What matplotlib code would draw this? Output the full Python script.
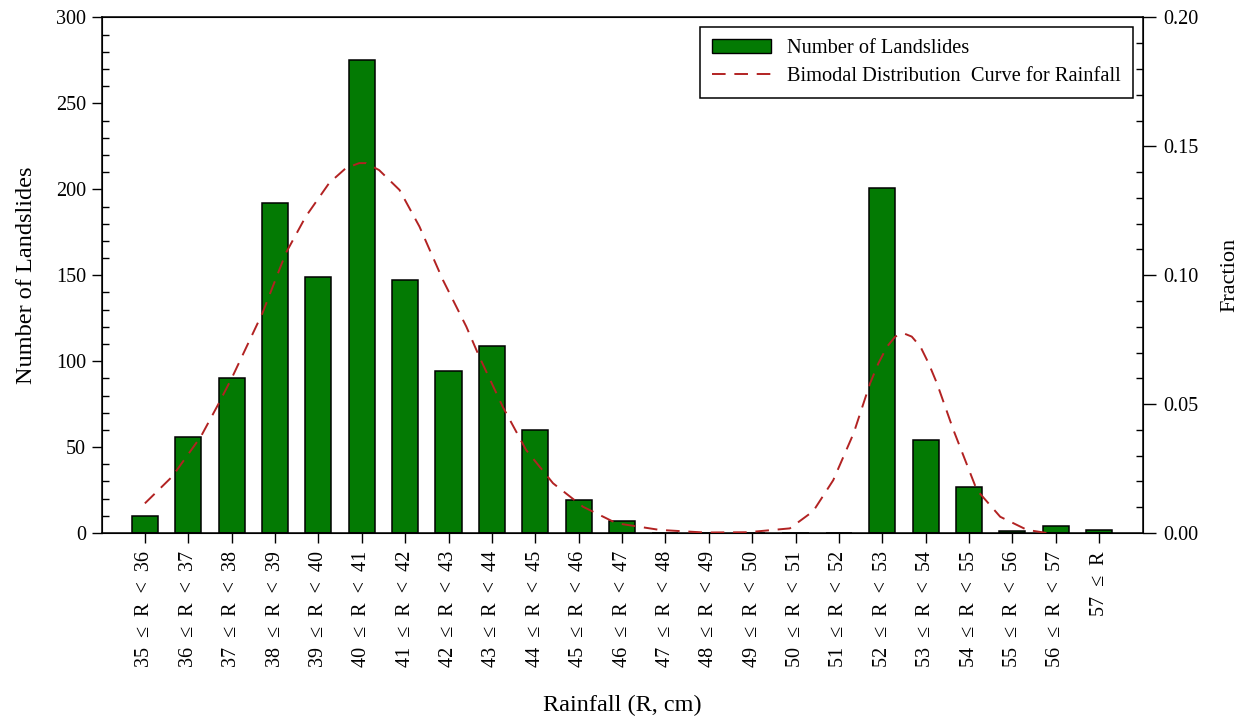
import matplotlib
matplotlib.use("Agg")
import matplotlib.pyplot as plt
from matplotlib.ticker import MultipleLocator, FormatStrFormatter
from matplotlib.patches import Patch
from matplotlib.lines import Line2D

# ---- data ----
bin_lower = [35, 36, 37, 38, 39, 40, 41, 42, 43, 44, 45, 46, 47, 48, 49, 50, 51, 52, 53, 54, 55, 56, 57]
counts = [10, 56, 90, 192, 149, 275, 147, 94, 109, 60, 19, 7, 0, 0, 0, 0, 0, 201, 54, 27, 1, 4, 2]
tick_labels = [f"{lo}  \u2264  R  <  {lo + 1}" for lo in bin_lower[:-1]] + ["57  \u2264  R"]

# bimodal curve (rainfall on bin-centre scale, fraction)
curve_r = [35.5, 36.13, 36.79, 37.21, 37.52, 38.21, 38.75, 39.21, 39.75, 40.13,
           40.44, 40.60, 40.90, 41.37, 41.83, 42.37, 42.91, 43.21, 43.75, 44.29,
           44.91, 45.60, 46.37, 47.37, 48.4, 49.4, 50.37, 50.91, 51.37, 51.84,
           52.22, 52.41, 52.61, 52.80, 52.99, 53.18, 53.38, 53.57, 53.76, 54.14,
           54.68, 55.22, 55.84, 56.30]
curve_f = [0.0115, 0.0219, 0.0374, 0.0505, 0.0607, 0.0853, 0.1086, 0.1228, 0.1358, 0.1415,
           0.1435, 0.1435, 0.1408, 0.1331, 0.1189, 0.0982, 0.0801, 0.0684, 0.0490, 0.0322,
           0.0193, 0.0102, 0.0038, 0.0012, 0.0002, 0.0003, 0.0018, 0.0085, 0.0205, 0.0387,
           0.0581, 0.0658, 0.0723, 0.0762, 0.0775, 0.0762, 0.0723, 0.0658, 0.0581, 0.0400,
           0.0167, 0.0063, 0.0012, 0.0000]

plt.rcParams['font.family'] = ['Liberation Serif', 'DejaVu Serif']

BAR_GREEN = '#037a03'
CURVE_RED = '#b22222'

fig = plt.figure(figsize=(12.47, 7.17), dpi=100)
ax = fig.add_axes([0.0814, 0.2566, 0.9162 - 0.0814, 0.9756 - 0.2566])

pos = list(range(len(counts)))
ax.bar(pos, counts, width=0.6, color=BAR_GREEN, edgecolor='black', linewidth=1.1, zorder=2)

ax.set_xlim(-1.0, 23.0)
ax.set_ylim(0, 300)
ax.set_xticks(pos)
ax.set_xticklabels(tick_labels, rotation=90, fontsize=14.5)
ax.yaxis.set_major_locator(MultipleLocator(50))
ax.yaxis.set_minor_locator(MultipleLocator(10))
ax.tick_params(axis='y', which='major', direction='out', length=7, width=1, labelsize=14.5, pad=4)
ax.tick_params(axis='y', which='minor', direction='in', length=5, width=1)
ax.tick_params(axis='x', which='major', direction='out', length=7, width=1, pad=6)
ax.tick_params(axis='x', which='minor', bottom=False)
ax.set_ylabel("Number of Landslides", fontsize=17.5, labelpad=14)
ax.set_xlabel("Rainfall (R, cm)", fontsize=17.5, labelpad=20)
for s in ax.spines.values():
    s.set_linewidth(1.1)

ax2 = ax.twinx()
curve_x = [r - 35.5 for r in curve_r]
ax2.plot(curve_x, curve_f, color=CURVE_RED, linewidth=1.4, dashes=(7, 4.5), zorder=3)
ax2.set_ylim(0, 0.20)
ax2.yaxis.set_major_locator(MultipleLocator(0.05))
ax2.yaxis.set_minor_locator(MultipleLocator(0.01))
ax2.yaxis.set_major_formatter(FormatStrFormatter('%.2f'))
ax2.tick_params(axis='y', which='major', direction='out', length=9, width=1, labelsize=14.5, pad=6)
ax2.tick_params(axis='y', which='minor', direction='in', length=5, width=1)
ax2.set_ylabel("Fraction", fontsize=16, labelpad=16)

handles = [Patch(facecolor=BAR_GREEN, edgecolor='black', linewidth=1.0),
           Line2D([0], [0], color=CURVE_RED, linewidth=1.4, dashes=(7, 4.5))]
labels = ["Number of Landslides", "Bimodal Distribution  Curve for Rainfall"]
leg = ax2.legend(handles, labels, loc='upper right', bbox_to_anchor=(1.0, 1.0),
                 borderaxespad=0.47,
                 fontsize=14.7, frameon=True, fancybox=False, edgecolor='black',
                 framealpha=1, handlelength=2.85, handletextpad=0.8, labelspacing=0.4,
                 borderpad=0.6, handleheight=0.64)
leg.get_frame().set_linewidth(1.1)

fig.savefig("out.png", dpi=100)
